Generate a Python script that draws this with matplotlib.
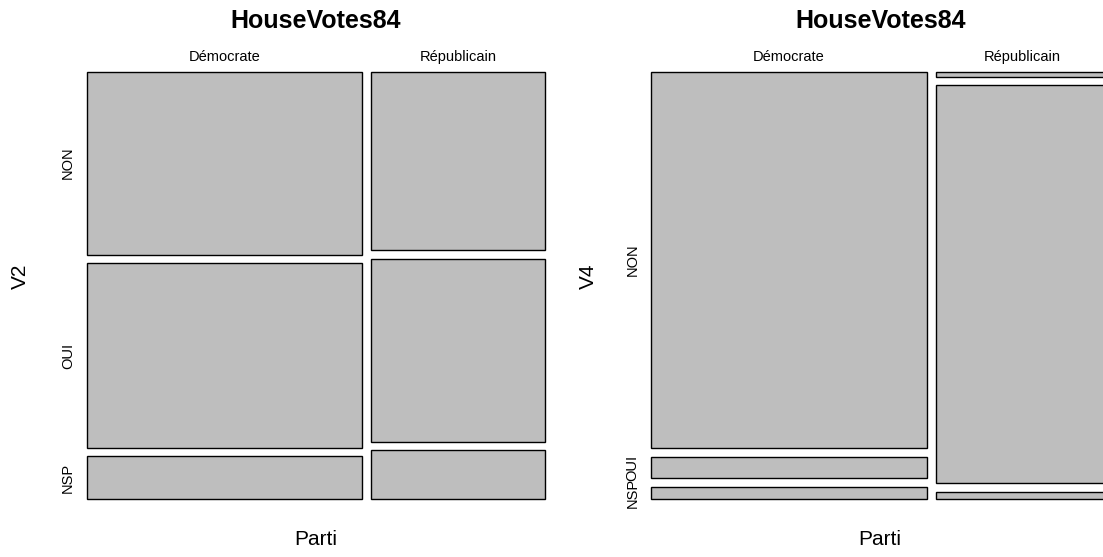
import numpy as np
import matplotlib
matplotlib.use("Agg")
import matplotlib.pyplot as plt
from matplotlib.patches import Rectangle

plt.rcParams['font.family'] = ['Liberation Sans', 'DejaVu Sans']

# HouseVotes84 counts, party by vote (NON / OUI / NSP)
partis = ["Démocrate", "Républicain"]
votes = ["NON", "OUI", "NSP"]
v2_dem = [119, 120, 28]
v2_rep = [73, 75, 20]
v4_dem = [245, 14, 8]
v4_rep = [2, 163, 3]


def mosaic(ax, table, ylab, ylab_x, off_x=0.02, off_y=0.04):
    table = np.asarray(table, dtype=float)
    total = table.sum()
    col_tot = table.sum(axis=1)
    ax.set_xlim(0, 1)
    ax.set_ylim(0, 1)
    ax.axis("off")
    x = 0.0
    for i, name in enumerate(partis):
        w = (1 - off_x) * col_tot[i] / total
        top = 1.0
        for j, lab in enumerate(votes):
            h = (1 - off_y) * table[i, j] / col_tot[i]
            ax.add_patch(Rectangle((x, top - h), w, h, facecolor="#bebebe",
                                   edgecolor="black", linewidth=1.0, clip_on=False))
            if i == 0:
                ax.text(-0.0415, top - h / 2, lab, rotation=90, ha="center",
                        va="center", fontsize=10.5, clip_on=False)
            top -= h + off_y / (len(votes) - 1)
        ax.text(x + w / 2, 1.034, name, ha="center", va="center", fontsize=10.5)
        x += w + off_x
    ax.text(0.5, 1.118, "HouseVotes84", ha="center", va="center",
            fontsize=18, fontweight="bold")
    ax.text(0.5, -0.095, "Parti", ha="center", va="center", fontsize=15)
    ax.text(ylab_x, 0.522, ylab, ha="center", va="center", rotation=90, fontsize=15)


def main():
    fig = plt.figure(figsize=(11.03, 5.57), dpi=100)
    W, H = 1103.0, 557.0
    ax1 = fig.add_axes([87 / W, 1 - 499.3 / H, 457.7 / W, 427.6 / H])
    ax2 = fig.add_axes([651.3 / W, 1 - 499.3 / H, 457.7 / W, 427.6 / H])
    mosaic(ax1, [v2_dem, v2_rep], "V2", -0.146)
    mosaic(ax2, [v4_dem, v4_rep], "V4", -0.138)
    fig.savefig("out.png", dpi=100)


if __name__ == "__main__":
    main()
